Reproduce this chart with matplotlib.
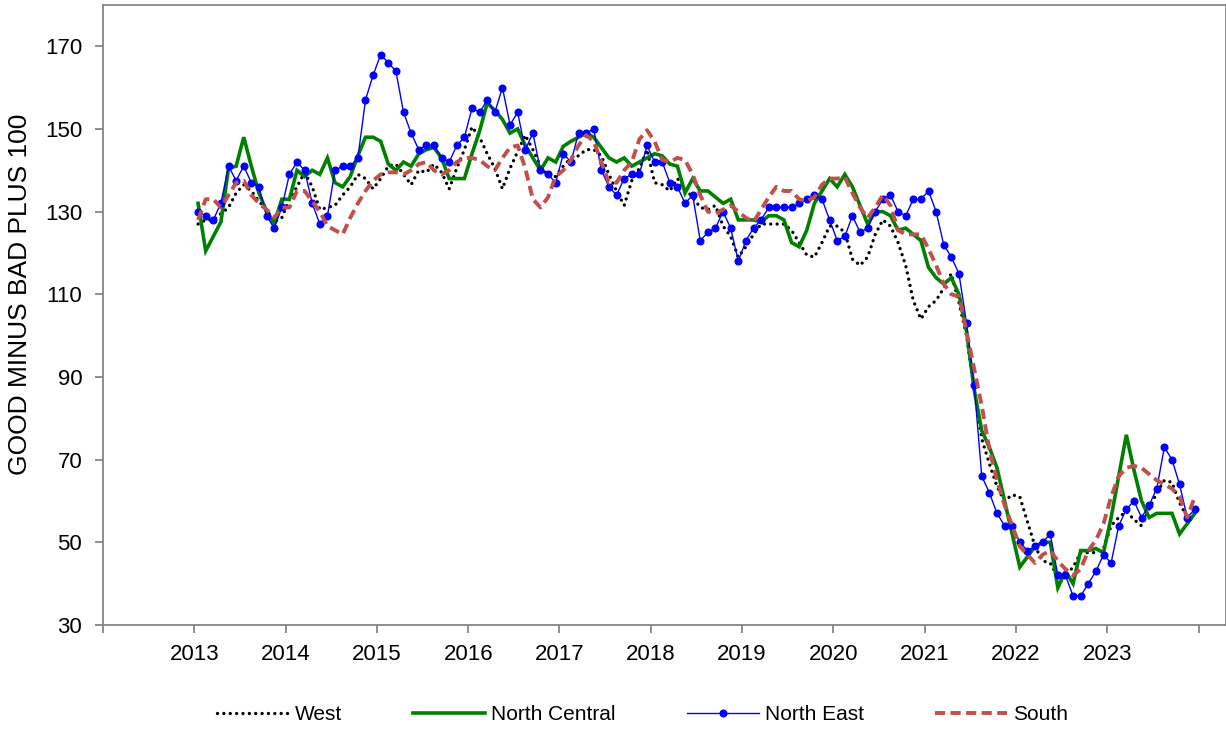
import numpy as np
import matplotlib
matplotlib.use("Agg")
import matplotlib.pyplot as plt

plt.rcParams["font.family"] = ["Liberation Sans", "DejaVu Sans"]

# ── Monthly index values, Jan 2013 – Dec 2023 ──────────────
start_year = 2013
year_labels = [str(y) for y in range(2013, 2024)]

west = [
    127, 128, 128, 129.5, 131, 134.5, 136.5, 135, 132.5, 130.5, 127.5, 128.5,
    133, 136, 139.5, 136, 130.5, 131, 131.5, 134, 136, 139, 138, 135.5,
    138, 141, 141.5, 139, 136.5, 140, 139.5, 141.5, 139.5, 135.5, 140.5, 145,
    150.5, 148, 144, 140.5, 135.5, 140.5, 144.5, 148.5, 145, 141, 138.5, 138.5,
    141, 143, 143.5, 145, 145, 143.5, 139, 135, 131.5, 137.5, 140.5, 145,
    137, 136.5, 135, 138, 135.5, 133.5, 131, 130.5, 131.5, 126.5, 124, 119,
    121.5, 124.5, 127, 127, 127, 127, 125.5, 122.5, 119.5, 119, 122.5, 126.5,
    126.5, 125, 118.5, 117, 119, 124.5, 128, 126.5, 122.5, 117, 108.5, 104,
    107, 108.5, 111.5, 115, 108, 100, 87, 75, 69, 63.5, 60, 61.5,
    61, 55, 49, 45.5, 45, 41.5, 42, 44, 47.5, 47.5, 47.5, 48.5,
    54, 56, 57.5, 55.5, 54, 58, 62, 65, 64.5, 59.5, 56, 55,
]

north_central = [
    132, 120.5, 124, 127.5, 140.5, 141, 148, 141, 134.5, 130, 127, 133,
    133, 140, 138.5, 140, 139, 143, 137, 136, 138.5, 143.5, 148, 148,
    147, 141.5, 140, 142, 141, 144, 145, 145.5, 143, 138, 138, 138,
    144, 149.5, 156.3, 154.5, 152.3, 149, 150, 146, 143, 140, 143, 142,
    145.8, 147, 148, 149, 148, 145.5, 143, 142, 143, 141, 142, 143,
    144, 143.5, 141.5, 141, 134.5, 138, 135, 135, 133.5, 132, 133, 128,
    128, 128, 127.5, 129, 129, 128, 122.5, 121.5, 125.5, 132, 135, 138,
    136, 139, 136, 131.5, 127, 130, 130, 129, 125.5, 126, 124.5, 123,
    116.5, 114, 112.5, 114, 110, 101, 87, 77, 73, 68, 60, 52,
    44, 46.5, 49, 50, 50, 39, 43, 40, 48, 48, 48.5, 47.5,
    56, 66, 76, 67.5, 60, 56, 57, 57, 57, 52, 54.5, 57,
]

north_east = [
    130, 129, 128, 132, 141, 137.5, 141, 137, 136, 129, 126, 131,
    139, 142, 140, 132, 127, 129, 140, 141, 141, 143, 157, 163,
    168, 166, 164, 154, 149, 145, 146, 146, 143, 142, 146, 148,
    155, 154, 157, 154, 160, 151, 154, 145, 149, 140, 139, 137,
    144, 142, 149, 149, 150, 140, 136, 134, 138, 139, 139, 146,
    142, 142, 137, 136, 132, 134, 123, 125, 126, 130, 126, 118,
    123, 126, 128, 131, 131, 131, 131, 132, 133, 134, 133, 128,
    123, 124, 129, 125, 126, 130, 133, 134, 130, 129, 133, 133,
    135, 130, 122, 119, 115, 103, 88, 66, 62, 57, 54, 54,
    50, 48, 49, 50, 52, 42, 42, 37, 37, 40, 43, 47,
    45, 54, 58, 60, 56, 59, 63, 73, 70, 64, 56, 58,
]

south = [
    128, 133, 133, 131, 134, 137, 137.5, 134, 132, 130.5, 128.5, 131,
    131, 135, 135, 132.5, 130, 126.5, 125.5, 124.5, 128.5, 132, 135, 137.5,
    139, 139.5, 139.5, 139, 140, 141.5, 142, 140, 139, 140, 142, 143,
    143, 142.5, 141, 140, 143, 145.5, 146, 140.5, 133, 131, 133.5, 138.5,
    140, 142.5, 146, 148.5, 147, 142, 137, 137, 140, 142, 147.5, 149.7,
    147, 142.5, 142, 143, 142.5, 139, 134, 130, 129.5, 130.5, 131.5, 130,
    128.5, 127.5, 130.5, 133.5, 136, 135, 135, 133, 132.5, 133.5, 136.5, 138,
    138, 138.3, 134.5, 131, 128.5, 131, 134, 131.5, 125.5, 124.5, 124.5, 124.5,
    121, 117, 112.5, 110, 109.5, 101, 92, 83, 72.5, 65, 59, 54,
    49, 47, 45, 47, 48, 45.5, 43.5, 42, 43.5, 48, 50.5, 54.5,
    61, 66, 68, 68.5, 68, 66.5, 65, 64, 63, 61, 56, 61,
]

# mid-month positions in decimal years
months = np.arange(len(west))
x = start_year + (months + 0.5) / 12

# ── Plot ────────────────────────────────────────────────────
fig = plt.figure(figsize=(12.26, 7.29), dpi=100)
ax = fig.add_axes([0.084, 0.1427, 0.916, 0.8505])

ax.plot(x, west, color="black", lw=2.4, linestyle=(0, (0.01, 1.9)),
        dash_capstyle="round", label="West", zorder=2)
ax.plot(x, north_central, color="#008000", lw=2.6, label="North Central",
        solid_joinstyle="miter", zorder=3)
ax.plot(x, north_east, color="#0000FF", lw=1.0, marker="o", markersize=4.8,
        label="North East", zorder=4)
ax.plot(x, south, color="#C0504D", lw=2.8, linestyle=(0, (2.6, 1.4)),
        label="South", zorder=5)

ax.set_xlim(2012, 2024.3)
ax.set_ylim(30, 180)
ax.set_yticks(range(30, 171, 20))
ax.set_xticks(range(2012, 2025))
ax.set_xticklabels([""] + year_labels + [""])

for side in ["left", "bottom", "top", "right"]:
    ax.spines[side].set_color("#868686")
    ax.spines[side].set_linewidth(1.3)
ax.tick_params(axis="both", direction="out", length=6, width=1.3,
               color="#868686", labelsize=16, labelcolor="black")
ax.tick_params(axis="x", pad=8)
ax.tick_params(axis="y", pad=9)

ax.set_ylabel("GOOD MINUS BAD PLUS 100", fontsize=19)
ax.yaxis.set_label_coords(-0.063, 0.534)

fig.legend(loc="center", bbox_to_anchor=(0.524, 0.02), ncol=4,
           frameon=False, fontsize=15, handlelength=3.45,
           handletextpad=0.3, columnspacing=3.4)

plt.savefig("out.png", dpi=100)
